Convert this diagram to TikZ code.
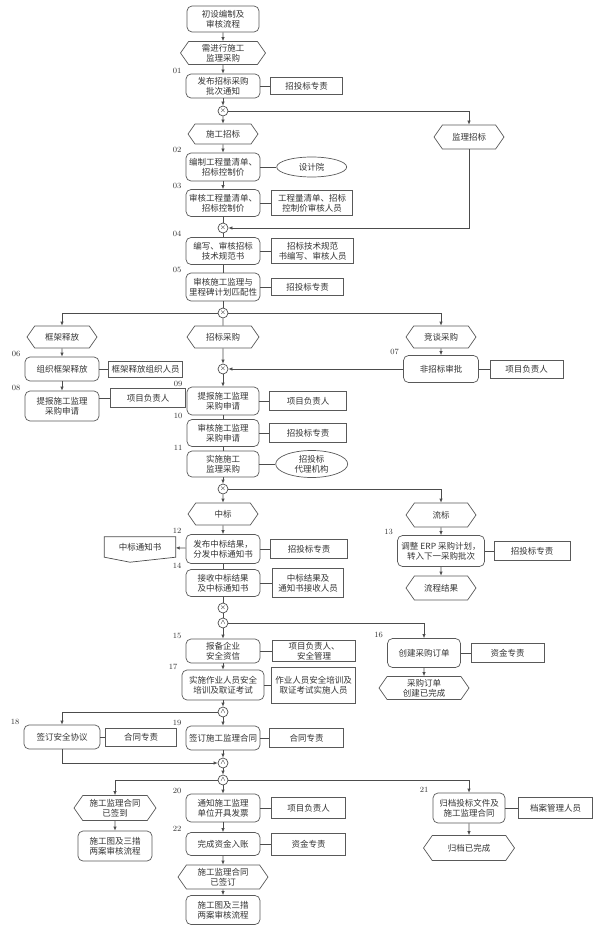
\documentclass[tikz,border=0pt]{standalone}
\usepackage{fontspec}
\newfontfamily\cjkfont{Noto Sans CJK SC}
\usepackage{tikz}
\usetikzlibrary{shapes,arrows,positioning,calc,arrows.meta}

\begin{document}
\begin{tikzpicture}[
    x=1pt, y=-1pt,
    txt/.style={font=\cjkfont\fontsize{8.5}{10}\selectfont, text=black!80, align=center},
    proc/.style={txt, draw=black!65, line width=0.7pt, rounded corners=5pt, minimum width=74pt, minimum height=27pt, inner sep=1pt},
    role/.style={txt, draw=black!65, line width=0.7pt, minimum width=74pt, minimum height=19pt, inner sep=1pt},
    evt/.style={txt, draw=black!65, line width=0.7pt, signal, signal to=west and east, signal pointer angle=110, minimum width=70pt, minimum height=22pt, inner sep=1pt},
    org/.style={txt, draw=black!65, line width=0.7pt, ellipse, minimum width=70pt, minimum height=20pt, inner sep=0pt},
    gate/.style={circle, draw=black!70, line width=0.7pt, inner sep=0pt, minimum size=10pt, font=\fontsize{7}{7}\selectfont},
    num/.style={font=\fontsize{8}{8}\selectfont, text=black!80, inner sep=1pt, anchor=south east, xshift=-3pt, yshift=-1pt},
    flow/.style={draw=black!70, line width=0.7pt, -{Latex[length=4pt,width=3.5pt]}},
    link/.style={draw=black!70, line width=0.7pt}
]
\useasboundingbox (0,0) rectangle (599,928);

% ---- start ----
\node[proc, minimum width=72pt, minimum height=26pt] (start) at (223,19) {初设编制及\\审核流程};
\node[evt, minimum width=85pt, minimum height=23pt] (eNeed) at (223,53) {需进行施工\\监理采购};
\node[proc, minimum height=24pt, label={[num]north west:01}] (p01) at (223,86) {发布招标采购\\批次通知};
\node[role, minimum width=72pt, minimum height=17pt, right=10pt of p01] (r01) {招投标专责};
\node[gate] (g1) at (223,111) {$\times$};

% ---- construction / supervision bidding ----
\node[evt, minimum height=20pt] (eCon) at (223,134) {施工招标};
\node[evt, minimum height=24pt] (eSup) at (469,137) {监理招标};
\node[proc, minimum height=28pt, label={[num]north west:02}] (p02) at (223,167) {编制工程量清单、\\招标控制价};
\node[org, right=16pt of p02] (o02) {设计院};
\node[proc, label={[num]north west:03}] (p03) at (223,203) {审核工程量清单、\\招标控制价};
\node[role, minimum width=81pt, minimum height=25pt, right=11pt of p03] (r03) {工程量清单、招标\\控制价审核人员};
\node[gate] (g2) at (223,228) {$\times$};
\node[proc, label={[num]north west:04}] (p04) at (223,251) {编写、审核招标\\技术规范书};
\node[role, minimum width=82pt, minimum height=25pt, right=11pt of p04] (r04) {招标技术规范\\书编写、审核人员};
\node[proc, minimum height=28pt, label={[num]north west:05}] (p05) at (223,287) {审核施工监理与\\里程碑计划匹配性};
\node[role, minimum width=72pt, minimum height=17pt, right=11pt of p05] (r05) {招投标专责};
\node[gate] (g3) at (223,313) {$\times$};

% ---- three purchase ways ----
\node[evt] (eFrm) at (62,337) {框架释放};
\node[evt, minimum width=72pt] (eBid) at (223,337) {招标采购};
\node[evt] (eNeg) at (441,337) {竞谈采购};
\node[proc, minimum height=24pt, label={[num]north west:06}] (p06) at (62,369) {组织框架释放};
\node[role, minimum height=16pt, right=9pt of p06] (r06) {框架释放组织人员};
\node[proc, minimum width=75pt, label={[num]north west:07}] (p07) at (441,369) {非招标审批};
\node[role, minimum width=73pt, minimum height=18pt, right=11pt of p07] (r07) {项目负责人};
\node[gate] (g4) at (223,369) {$\times$};
\node[proc, minimum height=30pt, label={[num]north west:08}] (p08) at (62,406) {提报施工监理\\采购申请};
\node[role, minimum width=75pt, right=11pt of p08, yshift=8pt] (r08) {项目负责人};
\node[proc, minimum width=72pt, minimum height=28pt, label={[num]north west:09}] (p09) at (223,401) {提报施工监理\\采购申请};
\node[role, minimum width=77pt, right=10pt of p09] (r09) {项目负责人};
\node[proc, minimum width=72pt, label={[num]north west:10}] (p10) at (223,433) {审核施工监理\\采购申请};
\node[role, minimum width=77pt, right=10pt of p10] (r10) {招投标专责};
\node[proc, minimum width=72pt, minimum height=26pt, label={[num]north west:11}] (p11) at (223,464) {实施施工\\监理采购};
\node[org, minimum width=72pt, minimum height=27pt, right=16pt of p11] (o11) {招投标\\代理机构};
\node[gate] (g5) at (223,489) {$\times$};

% ---- result ----
\node[evt] (eWin) at (223,514) {中标};
\node[evt, minimum height=24pt] (eFail) at (441,515) {流标};
\node[proc, minimum height=29pt, label={[num]north west:12}] (p12) at (223,549) {发布中标结果，\\分发中标通知书};
\node[role, minimum width=77pt, right=10pt of p12] (r12) {招投标专责};
\node[txt, minimum width=71pt, minimum height=20pt, inner sep=1pt] (doc) at (140,547) {中标通知书};
\node[proc, minimum width=87pt, minimum height=31pt, label={[num]north west:13}] (p13) at (441,551) {调整 ERP 采购计划，\\转入下一采购批次};
\node[role, minimum width=76pt, right=9pt of p13] (r13) {招投标专责};
\node[evt, minimum height=24pt] (eRes) at (441,588) {流程结果};
\node[proc, label={[num]north west:14}] (p14) at (223,583) {接收中标结果\\及中标通知书};
\node[role, minimum width=71pt, minimum height=29pt, right=12pt of p14] (r14) {中标结果及\\通知书接收人员};
\node[gate] (g6) at (223,608) {$\times$};
\node[gate] (g7) at (223,623) {$\wedge$};

% ---- safety and order ----
\node[proc, minimum height=24pt, label={[num]north west:15}] (p15) at (223,651) {报备企业\\安全资信};
\node[role, minimum width=83pt, minimum height=21pt, right=12pt of p15] (r15) {项目负责人、\\安全管理};
\node[proc, minimum width=73pt, minimum height=29pt, label={[num]north west:16}] (p16) at (424,653) {创建采购订单};
\node[role, minimum width=73pt, right=10pt of p16] (r16) {资金专责};
\node[evt, minimum width=90pt, minimum height=23pt] (eOrd) at (424,688) {采购订单\\创建已完成};
\node[proc, minimum width=82pt, minimum height=30pt, label={[num]north west:17}] (p17) at (223,685) {实施作业人员安全\\培训及取证考试};
\node[role, minimum width=84pt, minimum height=36pt, right=7pt of p17] (r17) {作业人员安全培训及\\取证考试实施人员};
\node[gate] (g8) at (223,712) {$\wedge$};

% ---- contracts ----
\node[proc, minimum width=76pt, minimum height=24pt, label={[num]north west:18}] (p18) at (62,737) {签订安全协议};
\node[role, minimum width=71pt, minimum height=18pt, right=5pt of p18] (r18) {合同专责};
\node[proc, minimum height=24pt, label={[num]north west:19}] (p19) at (223,738) {签订施工监理合同};
\node[role, right=9pt of p19] (r19) {合同专责};
\node[gate] (g9) at (223,763) {$\wedge$};
\node[gate] (g10) at (223,780) {$\wedge$};

% ---- closing ----
\node[evt, minimum width=82pt, minimum height=25pt] (eSgn) at (115,808) {施工监理合同\\已签到};
\node[proc, minimum height=30pt] (pDrw1) at (115,846) {施工图及三措\\两案审核流程};
\node[proc, minimum height=28pt, label={[num]north west:20}] (p20) at (223,808) {通知施工监理\\单位开具发票};
\node[role, minimum height=21pt, right=11pt of p20] (r20) {项目负责人};
\node[proc, minimum width=72pt, minimum height=30pt, label={[num]north west:21}] (p21) at (469,808) {归档投标文件及\\施工监理合同};
\node[role, minimum height=21pt, right=13pt of p21] (r21) {档案管理人员};
\node[evt, minimum width=91pt, minimum height=25pt] (eArc) at (469,848) {归档已完成};
\node[proc, minimum height=23pt, label={[num]north west:22}] (p22) at (223,844) {完成资金入账};
\node[role, minimum height=22pt, right=11pt of p22] (r22) {资金专责};
\node[evt, minimum width=90pt, minimum height=24pt] (eSgd) at (223,877) {施工监理合同\\已签订};
\node[proc, minimum height=29pt] (pDrw2) at (223,910) {施工图及三措\\两案审核流程};

% document outline
\draw[link] (doc.north west) -- (doc.north east) -- (doc.south east) -- ($(doc.south west)!0.36!(doc.south east)+(0,5)$) -- (doc.south west) -- cycle;

% Relations
\draw[flow] (start) -- (eNeed);
\draw[flow] (eNeed) -- (p01);
\draw[flow] (p01) -- (g1);
\draw[flow] (g1) -- (eCon);
\draw[flow] (g1) -| (eSup);
\draw[flow] (eCon) -- (p02);
\draw[flow] (p02) -- (p03);
\draw[link] (p03) -- (g2);
\draw[flow] (eSup) |- (g2);
\draw[link] (g2) -- (p04);
\draw[link] (p04) -- (p05);
\draw[link] (p05) -- (g3);
\draw[flow] (g3) -| (eFrm);
\draw[flow] (g3) -| (eNeg);
\draw[link] (g3) -- (eBid);
\draw[flow] (eFrm) -- (p06);
\draw[flow] (p06) -- (p08);
\draw[flow] (eNeg) -- (p07);
\draw[flow] (p07) -- (g4);
\draw[flow] (eBid) -- (g4);
\draw[flow] (g4) -- (p09);
\draw[link] (p09) -- (p10);
\draw[link] (p10) -- (p11);
\draw[flow] (p11) -- (g5);
\draw[flow] (g5) -- (eWin);
\draw[flow] (g5) -| (eFail);
\draw[flow] (eFail) -- (p13);
\draw[flow] (p13) -- (eRes);
\draw[flow] (eWin) -- (p12);
\draw[flow] (p12) -- (doc);
\draw[link] (p12) -- (p14);
\draw[link] (p14) -- (g6);
\draw[link] (g6) -- (g7);
\draw[flow] (g7) -| (p16);
\draw[flow] (p16) -- (eOrd);
\draw[flow] (g7) -- (p15);
\draw[flow] (p15) -- (p17);
\draw[flow] (p17) -- (g8);
\draw[flow] (g8) -| (p18);
\draw[flow] (g8) -- (p19);
\draw[flow] (p19) -- (g9);
\draw[flow] (p18) |- (g9);
\draw[flow] (g9) -- (g10);
\draw[flow] (g10) -| (eSgn);
\draw[flow] (eSgn) -- (pDrw1);
\draw[flow] (g10) -| (p21);
\draw[flow] (p21) -- (eArc);
\draw[flow] (g10) -- (p20);
\draw[flow] (p20) -- (p22);
\draw[flow] (p22) -- (eSgd);
\draw[flow] (eSgd) -- (pDrw2);

% roles
\draw[link] (p01) -- (r01);
\draw[link] (p02) -- (o02);
\draw[link] (p03) -- (r03);
\draw[link] (p04) -- (r04);
\draw[link] (p05) -- (r05);
\draw[link] (p06) -- (r06);
\draw[link] (p07) -- (r07);
\draw[link] (r08.west) -- (r08.west -| p08.east);
\draw[link] (p09) -- (r09);
\draw[link] (p10) -- (r10);
\draw[link] (p11) -- (o11);
\draw[link] (p12) -- (r12);
\draw[link] (p13) -- (r13);
\draw[link] (p14) -- (r14);
\draw[link] (p15) -- (r15);
\draw[link] (p16) -- (r16);
\draw[link] (p17) -- (r17);
\draw[link] (p18) -- (r18);
\draw[link] (p19) -- (r19);
\draw[link] (p20) -- (r20);
\draw[link] (p21) -- (r21);
\draw[link] (p22) -- (r22);
\end{tikzpicture}
\end{document}
